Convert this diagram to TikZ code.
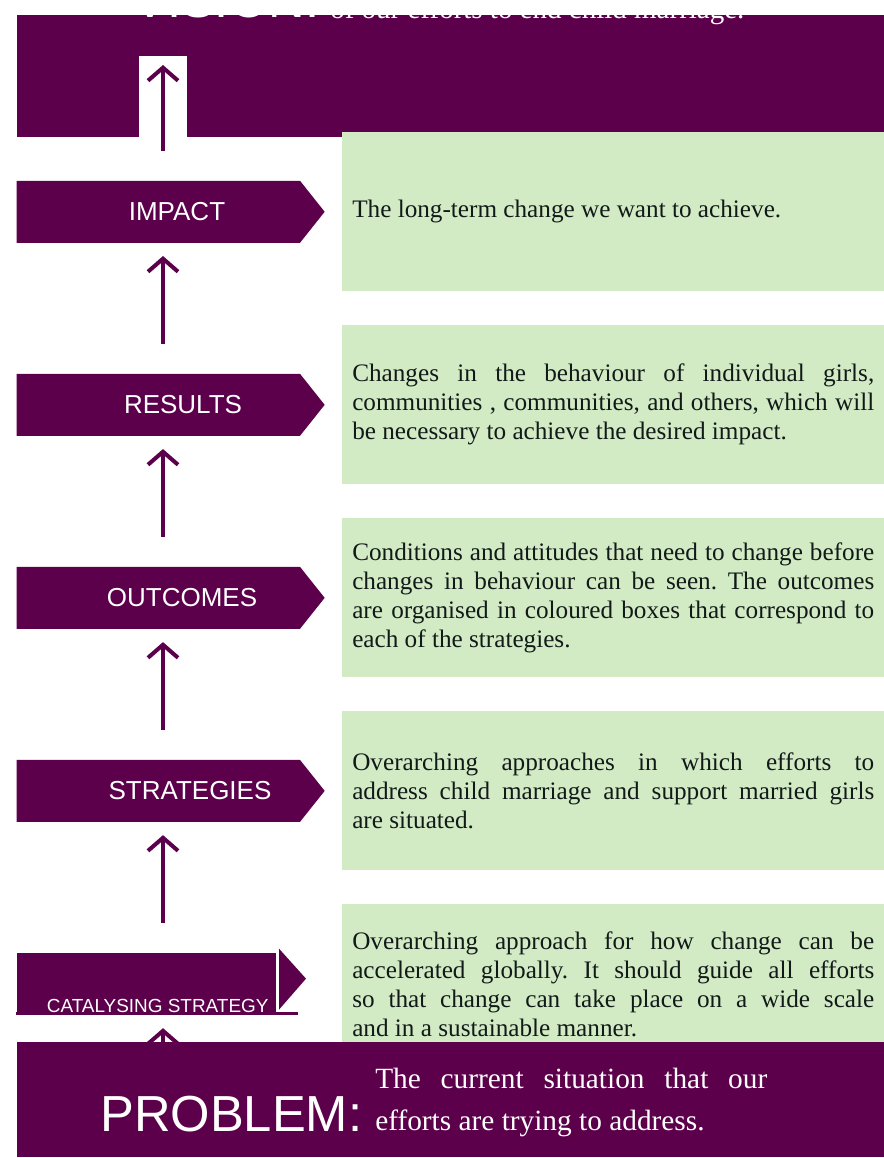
\documentclass[tikz,border=0pt]{standalone}
\usepackage{fontspec}
\setmainfont{Liberation Serif}
\setsansfont{Liberation Sans}
\frenchspacing
\usetikzlibrary{shapes.symbols, positioning, arrows.meta}
\definecolor{plum}{HTML}{5C004B}
\definecolor{leaf}{HTML}{D3EBC4}
\definecolor{ink}{HTML}{111A19}
\tikzset{
  >={Straight Barb[length=9.75pt,width=22.5pt]},
  node distance=25.125pt,
  band/.style={fill=plum, inner sep=0pt, minimum width=650.25pt},
  stage/.style={signal, signal to=east, signal pointer angle=103, fill=plum,
    inner sep=0pt, minimum width=231pt, minimum height=46.5pt},
  stagetext/.style={text=white, inner sep=0pt, font=\sffamily\fontsize{19.5}{23}\selectfont},
  note/.style={fill=leaf, text=ink, inner xsep=7.5pt, text width=391.5pt,
    minimum height=119.25pt, align=justify, font=\fontsize{18.9}{21.75}\selectfont},
  climb/.style={->, draw=plum, line width=3pt, shorten <=22.5pt, shorten >=9.75pt},
}

\begin{document}
\begin{tikzpicture}[x=0.75pt, y=-0.75pt]
	\useasboundingbox (0,0) rectangle (884,1158);
	\coordinate (spine) at (163,0);

	% vision band
	\node[band, anchor=north west, minimum height=91.5pt] (vision) at (17,15) {};
	\node[text=white, anchor=base west, inner sep=0pt, font=\sffamily\fontsize{38}{40}\selectfont] (visiontitle) at (133,17) {VISION:};
	\node[text=white, anchor=base west, inner sep=0pt, font=\fontsize{21.75}{26}\selectfont] (visiontext) at (330,18) {of our efforts to end child marriage.};
	\node[fill=white, inner sep=0pt, minimum width=36pt, minimum height=60.75pt, anchor=north] (visiongap) at (163,56) {};

	% notes
	\node[note, anchor=north west] (impactnote) at (342,132) {The long-term change we want to achieve.};
	\node[note, below=of impactnote] (resultsnote) {Changes in the behaviour of individual girls,\linebreak communities , communities, and others, which will\linebreak be necessary to achieve the desired impact.};
	\node[note, below=of resultsnote] (outcomesnote) {Conditions and attitudes that need to change before\linebreak changes in behaviour can be seen. The outcomes\linebreak are organised in coloured boxes that correspond to\linebreak each of the strategies.};
	\node[note, below=of outcomesnote] (strategiesnote) {\rightskip=10.5pt Overarching approaches in which efforts to\linebreak address child marriage and support married girls\linebreak are situated.};
	\node[note, below=of strategiesnote] (catalysenote) {\rightskip=24pt Overarching approach for how change can be\linebreak accelerated globally. It should guide all efforts\linebreak so that change can take place on a wide scale\linebreak and in a sustainable manner.};

	% stages
	\node[stage, left=12.75pt of impactnote] (impact) {};
	\node[stagetext] (impacttext) at (177,0 |- impact.center) {IMPACT};
	\node[stage, left=12.75pt of resultsnote] (results) {};
	\node[stagetext] (resultstext) at (183,0 |- results.center) {RESULTS};
	\node[stage, left=12.75pt of outcomesnote] (outcomes) {};
	\node[stagetext] (outcomestext) at (182,0 |- outcomes.center) {OUTCOMES};
	\node[stage, left=12.75pt of strategiesnote] (strategies) {};
	\node[stagetext] (strategiestext) at (190,0 |- strategies.center) {STRATEGIES};

	% catalysing strategy
	\node[fill=plum, inner sep=0pt, minimum width=194.25pt, minimum height=46.5pt, left=49.5pt of catalysenote] (catalyse) {};
	\fill[plum, shift={(catalyse.north east)}] (3,-4) -- (30,26) -- (3,57) -- cycle;
	\draw[plum, line width=2.25pt] ([yshift=1.1pt]catalyse.south west) -- ++(282,0);
	\node[text=white, anchor=base, inner sep=0pt, font=\sffamily\fontsize{14.2}{16}\selectfont] (catalysetext) at ([xshift=8.6pt, yshift=2.25pt]catalyse.south) {CATALYSING STRATEGY};

	% problem band
	\node[band, anchor=north west, minimum height=86.25pt] (problem) at (17,1042) {};
	\node[text=white, anchor=base west, inner sep=0pt, font=\sffamily\fontsize{38}{40}\selectfont] (problemtitle) at (100,1131) {PROBLEM:};
	\node[text=white, anchor=base west, inner sep=0pt, text width=294pt, align=justify, font=\fontsize{22}{31.5}\selectfont] (problemtext) at (375,1088) {The current situation that our\linebreak efforts are trying to address.};

	% arrows
	\draw[climb, shorten >=6.75pt] (impact.north -| spine) -- (visiongap.north);
	\draw[climb] (results.north -| spine) -- (impact.south -| spine);
	\draw[climb] (outcomes.north -| spine) -- (results.south -| spine);
	\draw[climb] (strategies.north -| spine) -- (outcomes.south -| spine);
	\draw[climb] (catalyse.north -| spine) -- (strategies.south -| spine);
	\draw[climb, shorten <=0pt] (problem.north -| spine) -- (catalyse.south -| spine);

\end{tikzpicture}
\end{document}
